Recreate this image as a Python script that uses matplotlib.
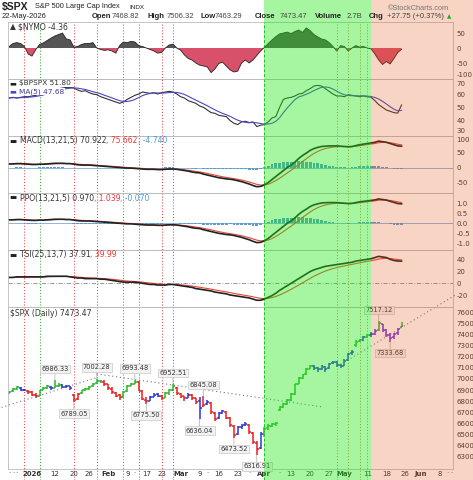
import numpy as np
import pandas as pd
import matplotlib
matplotlib.use("Agg")
import matplotlib.pyplot as plt
import matplotlib.transforms as mtrans
from matplotlib.patches import Rectangle
from matplotlib.lines import Line2D

plt.rcParams['font.family'] = ['DejaVu Sans']
plt.rcParams['axes.unicode_minus'] = False

W, H = 473, 480
L, R = 8, 453

# ---- trading calendar ----
holidays = ['2025-12-25', '2026-01-01', '2026-01-19', '2026-02-16', '2026-04-03', '2026-05-25']
cal = pd.bdate_range('2025-12-17', '2026-06-15')
cal = cal[~cal.isin(pd.to_datetime(holidays))]
pos_of = {d: i for i, d in enumerate(cal)}
origin = pos_of[pd.Timestamp('2026-01-02')]


def pos(d):
    return pos_of[pd.Timestamp(d)] - origin


dates = cal[(cal >= '2025-12-23') & (cal <= '2026-05-22')]
x = np.array([pos(d) for d in dates])

# ---- price data (daily OHLC) ----
opens = [6872, 6888, 6910, 6922, 6905, 6895,
         6885, 6860, 6850, 6905, 6920, 6930, 6920, 6940, 6945, 6925,
         6932, 6860, 6820, 6870, 6900, 6912, 6935, 6960, 6985, 6975,
         6950, 6912, 6878, 6852, 6840, 6888, 6940, 6958, 6968, 6890,
         6815, 6805, 6842, 6862, 6848, 6832, 6872, 6902, 6920, 6868,
         6845, 6832, 6855, 6825, 6800, 6760, 6775, 6780, 6695, 6650,
         6695, 6700, 6645, 6580, 6510, 6570, 6585, 6590, 6515, 6425,
         6380, 6510, 6558, 6580, 6600, 6720, 6752, 6775, 6812, 6868,
         6955, 7012, 7040, 7092, 7112, 7098, 7088, 7108, 7095, 7140,
         7150, 7128, 7120, 7170, 7228, 7300, 7338, 7352, 7375, 7398,
         7402, 7435, 7490, 7438, 7390, 7372, 7408, 7468.82]
highs = [6895, 6920, 6932, 6928, 6912, 6900,
         6892, 6875, 6905, 6930, 6942, 6938, 6986.33, 6962, 6950, 6945,
         6938, 6865, 6870, 6905, 6918, 6938, 6965, 7002.28, 6990, 6990,
         6958, 6925, 6885, 6862, 6892, 6945, 6965, 6993.48, 6985, 6898,
         6835, 6848, 6875, 6870, 6855, 6880, 6910, 6952.51, 6925, 6875,
         6850, 6875, 6862, 6832, 6835, 6845.08, 6810, 6790, 6705, 6700,
         6725, 6710, 6655, 6590, 6575, 6598, 6615, 6598, 6525, 6440,
         6520, 6565, 6600, 6605, 6612, 6760, 6785, 6820, 6872, 6958,
         7020, 7045, 7098, 7125, 7125, 7110, 7125, 7120, 7145, 7165,
         7158, 7135, 7175, 7235, 7258, 7345, 7362, 7385, 7405, 7420,
         7445, 7517.12, 7495, 7445, 7410, 7415, 7455, 7506.32]
lows = [6865, 6882, 6905, 6895, 6888, 6868,
        6846, 6830, 6845, 6898, 6912, 6902, 6915, 6930, 6915, 6918,
        6905, 6789.05, 6812, 6862, 6890, 6905, 6930, 6955, 6960, 6940,
        6905, 6868, 6835, 6815, 6832, 6880, 6932, 6950, 6888, 6808,
        6775.50, 6798, 6835, 6840, 6815, 6825, 6860, 6895, 6860, 6830,
        6800, 6825, 6815, 6775, 6636.04, 6750, 6770, 6685, 6625, 6640,
        6685, 6640, 6570, 6473.52, 6500, 6555, 6575, 6505, 6415, 6316.91,
        6375, 6480, 6545, 6565, 6580, 6712, 6740, 6765, 6805, 6860,
        6950, 7002, 7035, 7085, 7080, 7060, 7080, 7060, 7090, 7130,
        7110, 7100, 7115, 7165, 7215, 7290, 7328, 7340, 7365, 7380,
        7395, 7430, 7425, 7380, 7333.68, 7360, 7398, 7463.29]
closes = [6885, 6912, 6925, 6905, 6898, 6880,
          6858, 6845, 6900, 6922, 6932, 6915, 6940, 6948, 6928, 6935,
          6918, 6810, 6862, 6898, 6910, 6930, 6958, 6985, 6978, 6950,
          6915, 6880, 6850, 6840, 6885, 6940, 6955, 6970, 6895, 6820,
          6800, 6840, 6860, 6850, 6830, 6870, 6900, 6935, 6870, 6840,
          6830, 6860, 6825, 6795, 6736, 6770, 6795, 6700, 6640, 6690,
          6715, 6650, 6585, 6500, 6565, 6580, 6600, 6520, 6430, 6370,
          6505, 6555, 6575, 6598, 6605, 6750, 6772, 6810, 6865, 6950,
          7010, 7035, 7090, 7115, 7100, 7085, 7112, 7092, 7138, 7155,
          7125, 7118, 7165, 7225, 7245, 7335, 7350, 7372, 7395, 7405,
          7430, 7500, 7440, 7395, 7370, 7405, 7445.72, 7473.47]
bar_class = ("gggbbr" "rrgggbggbb" "brrggggggr" "rrrrggggrr" "rbbbrgggrr"
             "rbrrbrbrrb" "brrrbbbrrr" "bggggggggg" "ggggbbbbbb" "bbbbbggbgb"
             "pgpppppg")

# ---- indicators ----
nymo = [5, 15, 18, 15, 5, -20,
        -27, -5, 12, 17, 25, 33, 40, 45, 50, 30,
        27, 3, 5, 12, 15, 15, 18, 0, -5, -8,
        -6, -10, -17, 8, 20, 18, 22, 20, 8, 5,
        0, -5, -10, -17, -15, 0, 10, 13, 0, -7,
        -23, -35, -40, -50, -57, -60, -63, -82, -70, -52,
        -47, -60, -73, -80, -77, -50, -40, -50, -40, -25,
        -10, 2, 15, 27, 38, 47, 50, 53, 48, 55,
        60, 52, 67, 58, 45, 37, 30, 27, 18, 5,
        -10, 8, 5, -10, 0, 8, 3, 5, 0, -3,
        -20, -40, -55, -45, -53, -35, -15, -4.36]
bpspx = [57, 57.5, 57, 57.5, 58, 58,
         58.5, 59, 60, 61, 62, 63, 63.5, 64, 64.5, 65,
         65, 64.5, 63, 62, 62.5, 61, 60, 59.5, 58, 57,
         56, 55, 54, 53, 54, 56, 57.5, 59, 60, 61.5,
         61, 60.5, 61, 60, 61, 61.5, 62, 61.5, 60, 58,
         57, 55, 54, 53, 51, 50, 48, 46, 45.5, 44,
         43.5, 43, 40, 38, 37, 39, 39.5, 38.5, 39, 35.5,
         36.5, 37, 39, 42, 43, 50, 56, 57, 57.5, 58.5,
         60, 60.5, 62.5, 64, 66, 66.5, 66, 64, 62, 60,
         58.5, 58.5, 58, 59.5, 59, 58.5, 58, 58.5, 58, 57.5,
         55, 52, 50, 48, 47, 46, 45.6, 51.8]
macd = [12, 12, 13, 13, 12, 11,
        10, 10, 11, 11, 12, 13, 14, 14, 14, 13,
        13, 11, 9, 8, 8, 8, 7, 6, 5, 4,
        3, 2, 1, 0, -1, -2, -2, -3, -4, -5,
        -6, -6, -6, -7, -7, -6, -5, -5, -6, -8,
        -10, -12, -15, -17, -18, -22, -25, -28, -31, -34,
        -36, -38, -39, -41, -44, -47, -51, -55, -60, -64,
        -63, -58, -50, -40, -30, -20, -10, 0, 8, 18,
        30, 40, 48, 57, 63, 67, 70, 71, 72, 72,
        72, 71, 70, 69, 70, 73, 76, 78, 80, 82,
        84, 88, 86, 84, 80, 76, 72, 70.922]
tsi = [10, 10, 11, 11, 11, 11,
       11, 11, 11, 11, 12, 12, 12, 12, 12, 12,
       11, 10, 9, 9, 8, 8, 8, 8, 7, 7,
       6, 5, 4, 3, 2, 2, 2, 2, 1, 0,
       -1, -2, -2, -3, -3, -3, -2, -2, -3, -4,
       -5, -6, -7, -9, -10, -11, -12, -13, -15, -16,
       -17, -18, -20, -21, -22, -23, -24, -25, -27, -29,
       -29, -27, -24, -21, -17, -12, -8, -4, 0, 4,
       8, 12, 16, 20, 23, 25, 27, 29, 30, 31,
       32, 33, 34, 35, 36, 38, 39, 40, 41, 42,
       44, 46, 45, 44, 41, 39, 38, 37.91]

close_s = pd.Series(closes)
ma5 = pd.Series(bpspx).rolling(5, min_periods=1).mean()
macd_s = pd.Series(macd)
macd_sig = macd_s.ewm(span=5, adjust=False).mean()
ppo_s = 100 * macd_s / close_s.ewm(span=21, adjust=False).mean()
ppo_sig = ppo_s.ewm(span=5, adjust=False).mean()
tsi_sig = pd.Series(tsi).ewm(span=7, adjust=False).mean()

# ---- chart annotations ----
red_marks = ['2025-12-30', '2026-01-20', '2026-01-28', '2026-02-12', '2026-02-23']
green_marks = ['2026-01-06', '2026-02-06', '2026-02-26']
orange_marks = ['2026-04-29', '2026-05-04', '2026-05-07', '2026-05-11']
green_zone = ('2026-04-01', '2026-05-12')
trend_from = [('2025-12-19', 6745), ('2026-01-28', 7045), ('2026-04-30', 7130)]
trend_to = [('2026-01-28', 7012), ('2026-04-23', 6750), ('2026-06-12', 7750)]
high_notes = ['2026-01-12', '2026-01-28', '2026-02-11', '2026-02-26', '2026-03-10', '2026-05-14']
low_notes = ['2026-01-20', '2026-02-17', '2026-03-09', '2026-03-20', '2026-03-30', '2026-05-19']

tick_dates = ['2026-01-02', '2026-01-12', '2026-01-20', '2026-01-26', '2026-02-02', '2026-02-09',
              '2026-02-17', '2026-02-23', '2026-03-02', '2026-03-09', '2026-03-16', '2026-03-23',
              '2026-04-01', '2026-04-13', '2026-04-20', '2026-04-27', '2026-05-01', '2026-05-11',
              '2026-05-18', '2026-05-26', '2026-06-01', '2026-06-08']
tick_text = ['2026', '12', '20', '26', 'Feb', '9', '17', '23', 'Mar', '9', '16', '23',
             'Apr', '13', '20', '27', 'May', '11', '18', '26', 'Jun', '8']

# ---- figure ----
fig = plt.figure(figsize=(W / 100, H / 100), dpi=100)
xmin, xmax = pos('2025-12-23') - 0.3, pos('2026-06-12') - 0.5


def panel(top, bottom):
    ax = fig.add_axes([L / W, 1 - bottom / H, (R - L) / W, (bottom - top) / H])
    ax.set_facecolor('none')
    for s in ax.spines.values():
        s.set_color('#bbbbbb')
        s.set_linewidth(0.6)
    ax.yaxis.tick_right()
    ax.tick_params(axis='y', length=0, pad=2.5, labelsize=5, labelcolor='#333333')
    ax.tick_params(axis='x', length=0, labelbottom=False)
    ax.set_xlim(xmin, xmax)
    return ax


def edge_labels(ax, first_top=False, last_bottom=False):
    ticks = list(ax.get_yticks())
    for t, v in zip(ax.get_yticklabels(), ticks):
        if first_top and v == max(ticks):
            t.set_va('top')
        if last_bottom and v == min(ticks):
            t.set_va('bottom')


def label(ax, y_px, pieces, box=False, size=5.5):
    t = ax.text(10 / W, 1 - y_px / H, pieces[0][0], color=pieces[0][1], transform=fig.transFigure,
                fontsize=size, va='center', ha='left', zorder=6,
                bbox=dict(boxstyle='square,pad=0.02', fc='white', ec='none') if box else None)
    prev = t
    for s, c in pieces[1:]:
        prev = ax.annotate(s, xy=(1, 0.5), xycoords=prev, va='center', ha='left',
                           color=c, fontsize=size, zorder=6,
                           bbox=dict(boxstyle='square,pad=0.02', fc='white', ec='none') if box else None)


ax1 = panel(22, 79)
ax2 = panel(79, 136)
ax3 = panel(136, 193)
ax4 = panel(193, 250)
ax5 = panel(250, 307)
ax6 = panel(307, 469)

# NYMO
nv = np.array(nymo)
ax1.fill_between(x, nv, 0, where=nv >= 0, interpolate=True, color='#555555', lw=0)
ax1.fill_between(x, nv, 0, where=nv <= 0, interpolate=True, color='#d9506a', lw=0)
ax1.plot(x, nv, color='#222222', lw=0.6)
ax1.set_ylim(-103.3, 86.7)
ax1.set_yticks([50, 0, -50, -100])
edge_labels(ax1, last_bottom=True)
label(ax1, 27, [('▲ ', '#333333'), ('$NYMO -4.36', '#333333')])

# BPSPX
ax2.plot(x, bpspx, color='#333333', lw=0.8)
ax2.plot(x, ma5, color='#4848c8', lw=0.8)
ax2.set_ylim(28.4, 71.3)
ax2.set_yticks([70, 60, 50, 40, 30])
edge_labels(ax2, first_top=True, last_bottom=True)
label(ax2, 83.5, [('▬ ', '#222222'), ('$BPSPX 51.80', '#333333')], box=True, size=5.3)
label(ax2, 91.5, [('▬ ', '#4848c8'), ('MA(5) 47.68', '#3a3aa8')], box=True, size=5.3)

# MACD
hist = macd_s - macd_sig
ax3.bar(x, hist, width=0.75, color='#5b9bd0', lw=0)
ax3.axhline(0, color='#5b9bd0', lw=0.5)
ax3.plot(x, macd_sig, color='#ee4433', lw=0.8)
ax3.plot(x, macd_s, color='#222222', lw=1.2)
ax3.set_ylim(-85, 105)
ax3.set_yticks([100, 50, 0, -50])
edge_labels(ax3, first_top=True)
label(ax3, 141, [('▬ ', '#222222'), ('MACD(13,21,5) 70.922', '#333333'),
                 (', 75.662', '#ee3333'), (', -4.740', '#4a9ad4')])

# PPO
phist = ppo_s - ppo_sig
ax4.bar(x, phist, width=0.75, color='#5b9bd0', lw=0)
ax4.axhline(0, color='#5b9bd0', lw=0.5)
ax4.plot(x, ppo_sig, color='#ee4433', lw=0.8)
ax4.plot(x, ppo_s, color='#222222', lw=1.2)
ax4.set_ylim(-1.335, 1.515)
ax4.set_yticks([1.0, 0.5, 0.0, -0.5, -1.0], ['1.0', '0.5', '0.0', '-0.5', '-1.0'])
label(ax4, 198, [('▬ ', '#222222'), ('PPO(13,21,5) 0.970', '#333333'),
                 (', 1.039', '#ee3333'), (', -0.070', '#4a9ad4')])

# TSI
ax5.axhline(0, color='#888888', lw=0.6, dashes=(5, 2, 1, 2))
ax5.plot(x, tsi_sig, color='#ee4433', lw=0.8)
ax5.plot(x, tsi, color='#222222', lw=1.2)
ax5.set_ylim(-40.5, 56.9)
ax5.set_yticks([40, 20, 0, -20])
label(ax5, 255, [('▬ ', '#222222'), ('TSI(25,13,7) 37.91', '#333333'), (', 39.99', '#ee3333')])

# price bars
palette = {'g': '#2cb52c', 'r': '#ee1c1c', 'b': '#2a36d8', 'p': '#7a2ee0'}
cols = [palette[c] for c in bar_class]
ax6.vlines(x, lows, highs, colors=cols, lw=1.1)
ax6.hlines(opens, x - 0.5, x, colors=cols, lw=1.1)
ax6.hlines(closes, x, x + 0.5, colors=cols, lw=1.1)
ax6.set_ylim(6192, 7645)
ax6.set_yticks(np.arange(6300, 7601, 100))
label(ax6, 313, [('$SPX (Daily) 7473.47', '#333333')])

for (d0, p0), (d1, p1) in zip(trend_from, trend_to):
    ax6.plot([pos(d0), pos(d1)], [p0, p1], color='#777777', lw=0.8,
             linestyle=(0, (1, 2.5)), clip_on=False)

hi_map = dict(zip([pos(d) for d in dates], highs))
lo_map = dict(zip([pos(d) for d in dates], lows))
note_box = dict(boxstyle='square,pad=0.2', fc='#f2f2f2', ec='#c8c8c8', lw=0.5)
for d in high_notes:
    p = pos(d)
    ax6.annotate(f'{hi_map[p]:.2f}', xy=(p, hi_map[p]), xytext=(0, 6), textcoords='offset points',
                 ha='center', va='bottom', fontsize=4.8, color='#333333', bbox=note_box,
                 arrowprops=dict(arrowstyle='-', color='#aaaaaa', lw=0.5, shrinkA=0, shrinkB=0))
for d in low_notes:
    p = pos(d)
    ax6.annotate(f'{lo_map[p]:.2f}', xy=(p, lo_map[p]), xytext=(0, -6), textcoords='offset points',
                 ha='center', va='top', fontsize=4.8, color='#333333', bbox=note_box,
                 arrowprops=dict(arrowstyle='-', color='#aaaaaa', lw=0.5, shrinkA=0, shrinkB=0))

# x axis
major = [pos(d) for d in tick_dates]
ax6.set_xticks(major, tick_text)
ax6.tick_params(axis='x', labelbottom=True, length=0, pad=1.5, labelsize=5, labelcolor='#333333')
for t in ax6.get_xticklabels():
    if not t.get_text().isdigit() or len(t.get_text()) == 4:
        t.set_fontweight('bold')
half = {m: 0.75 * len(s) + 0.9 for m, s in zip(major, tick_text)}
minor = [pos(d) for d in cal
         if xmin < pos(d) < xmax and all(abs(pos(d) - m) >= half[m] for m in major)]
ax6.set_xticks(minor, ['·'] * len(minor), minor=True)
ax6.tick_params(axis='x', which='minor', length=0, pad=0.5, labelsize=5, labelcolor='#555555')
ax6.set_xlim(xmin, xmax)

# event lines and shaded zones span the whole figure height
trans = mtrans.blended_transform_factory(ax6.transData, fig.transFigure)
top = 1 - 22 / H
for d in red_marks:
    fig.add_artist(Line2D([pos(d)] * 2, [0, top], transform=trans, color='#ee3333', lw=0.7,
                          linestyle=(0, (1, 2)), zorder=-1))
for d in green_marks:
    fig.add_artist(Line2D([pos(d)] * 2, [0, top], transform=trans, color='#22aa22', lw=0.7,
                          linestyle=(0, (1, 2)), zorder=-1))
for d in orange_marks:
    fig.add_artist(Line2D([pos(d)] * 2, [0, top], transform=trans, color='#c07a30', lw=0.7,
                          linestyle=(0, (1, 2)), zorder=-1))
g0, g1 = pos(green_zone[0]), pos(green_zone[1])
fig.add_artist(Line2D([g0] * 2, [0, top], transform=trans, color='#22aa22', lw=0.7,
                      linestyle=(0, (3, 2)), zorder=-1))
fig.add_artist(Rectangle((g0, 0), g1 - g0, 1, transform=trans, fc=(0.13, 0.9, 0.07), alpha=0.4,
                         lw=0, zorder=10))
fig.add_artist(Rectangle((g1, 0), 40, 1, transform=trans, fc=(0.89, 0.34, 0.09), alpha=0.25,
                         lw=0, zorder=10))


# header
def ftext(xp, yp, s, **kw):
    kw.setdefault('fontsize', 5.5)
    kw.setdefault('color', '#222222')
    kw.setdefault('family', 'Liberation Sans')
    fig.text(xp / W, 1 - yp / H, s, va='center', ha='left', zorder=12, **kw)


ftext(2, 7, '$SPX', fontsize=7.5, fontweight='bold')
ftext(35, 7, 'S&P 500 Large Cap Index', fontsize=5.3)
ftext(129, 7.5, 'INDX', fontsize=4.6)
ftext(388, 8, '©StockCharts.com', fontsize=5.3, color='#777777')
ftext(2, 17, '22-May-2026')
ftext(92, 17, 'Open', fontweight='bold')
ftext(112, 17, '7468.82', color='#444444')
ftext(148, 17, 'High', fontweight='bold')
ftext(167, 17, '7506.32', color='#444444')
ftext(200, 17, 'Low', fontweight='bold')
ftext(215, 17, '7463.29', color='#444444')
ftext(255, 17, 'Close', fontweight='bold')
ftext(280, 17, '7473.47', color='#444444')
ftext(315, 17, 'Volume', fontweight='bold')
ftext(347, 17, '2.7B', color='#444444')
ftext(369, 17, 'Chg', fontweight='bold')
ftext(387, 17, '+27.75 (+0.37%)', color='#444444')
ftext(447, 17, '▲', fontsize=4, color='#22aa22', family='DejaVu Sans')

fig.savefig('out.png', dpi=100)
